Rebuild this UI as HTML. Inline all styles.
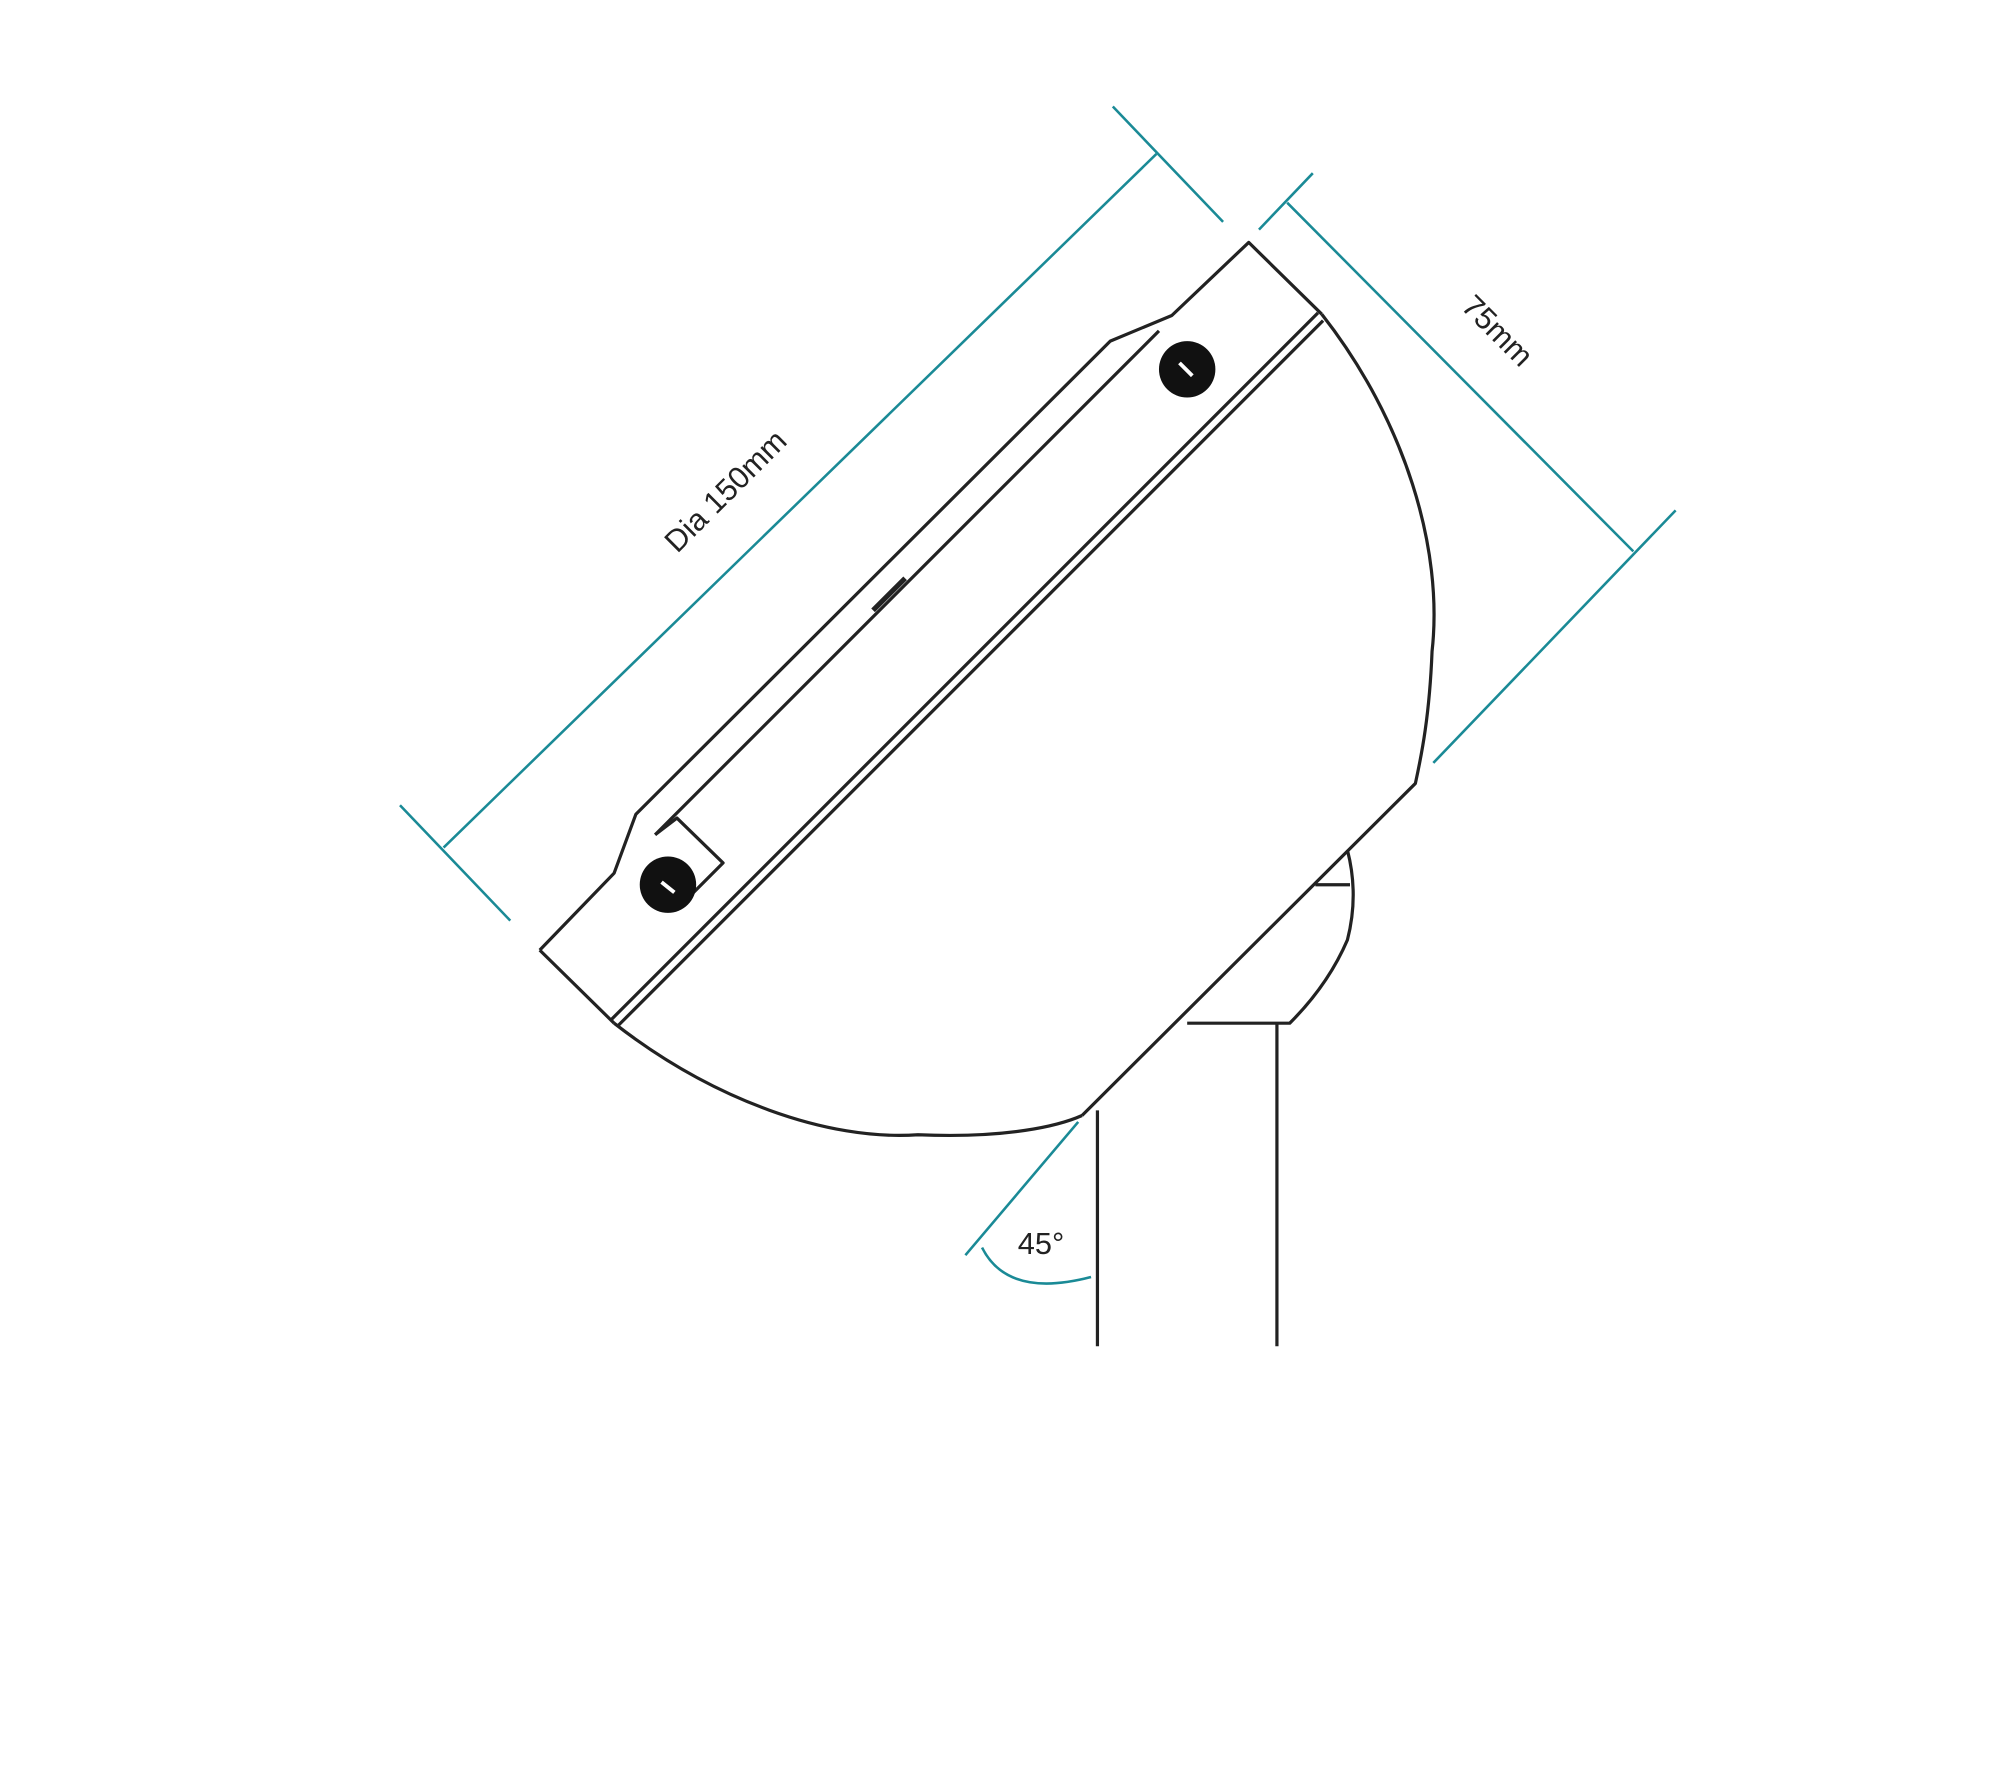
<!DOCTYPE html>
<html><head><meta charset="utf-8"><style>
html,body{margin:0;padding:0;background:#fff;}
svg{display:block;}
</style></head><body>
<svg width="2000" height="1772" viewBox="0 0 1560 1382" xmlns="http://www.w3.org/2000/svg">
<rect width="1560" height="1382" fill="#fff"/>
<g transform="translate(-4,-2)">
<g stroke="#1a8a96" stroke-width="2" fill="none">
  <line x1="350" y1="663" x2="906" y2="122"/>
  <line x1="316" y1="630" x2="402" y2="720"/>
  <line x1="872" y1="85" x2="958" y2="175"/>
  <line x1="1008" y1="160" x2="1278" y2="432"/>
  <line x1="986" y1="181" x2="1028" y2="137"/>
  <line x1="1122" y1="597" x2="1311" y2="400"/>
  <line x1="757" y1="981" x2="845" y2="877"/>
  <path d="M770 975 Q790 1015 855 998"/>
</g>
<g font-family="Liberation Sans, sans-serif" font-size="24" fill="#222">
  <text x="570" y="393" text-anchor="middle" transform="rotate(-45 570 385)">Dia 150mm</text>
  <text x="1172" y="268" text-anchor="middle" transform="rotate(45 1172 260)">75mm</text>
  <text x="816" y="980" text-anchor="middle">45°</text>
</g>
<g stroke="#222" stroke-width="2.5" fill="none" stroke-linejoin="round">
  <path d="M425 743 L483 683 L500 637 L870 268 L918 248 L978 191 L1035 247"/>
  <path d="M425 743 L483 800"/>
  <line x1="1032" y1="246" x2="481" y2="797"/>
  <line x1="1036" y1="252" x2="486" y2="802"/>
  <path d="M1035 247 C1100 330 1130 430 1121 510 C1119 560 1113 590 1108 613 L848 872"/>
  <path d="M483 800 C560 860 650 892 720 887 C790 890 830 880 848 872"/>
  <line x1="908" y1="260" x2="515" y2="653"/>
  <path d="M515 653 L532 640 L568 675 L540 703"/>
  <path d="M1055 665 Q1064 700 1055 735 Q1040 770 1010 800 L930 800"/>
  <line x1="1030" y1="692" x2="1057" y2="692"/>
  <line x1="860" y1="868" x2="860" y2="1052"/>
  <line x1="1000" y1="800" x2="1000" y2="1052"/>
  <line x1="685" y1="478" x2="710" y2="453" stroke-width="4"/>
</g>
<circle cx="930" cy="290" r="22" fill="#111"/>
<circle cx="525" cy="692" r="22" fill="#111"/>
<path d="M924 285 l10 10 M520 690 l10 8" stroke="#fff" stroke-width="3"/>
</g>
</svg>
</body></html>
